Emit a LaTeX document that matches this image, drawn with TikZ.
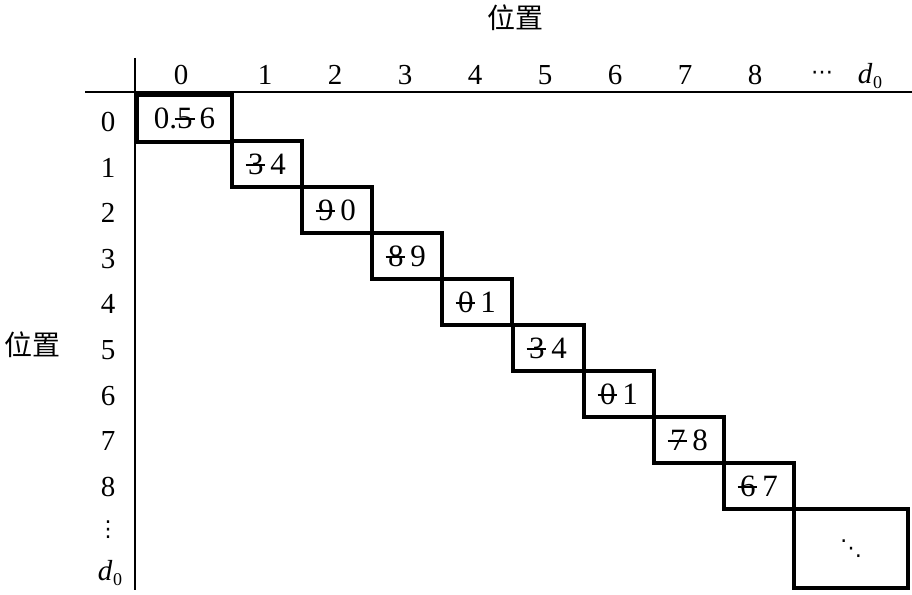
\documentclass[tikz,border=0pt]{standalone}
\usepackage{fontspec}
\setmainfont{Liberation Serif}
\newfontfamily\cjk{Noto Sans CJK SC}
\newfontfamily\dotsfont{DejaVu Sans}
\usetikzlibrary{positioning}

% struck-out digit and d_0 label
\newcommand{\strk}[1]{\rlap{\kern-0.08em\rule[0.27em]{0.64em}{0.07em}}#1\hspace{0.22em}}
\newcommand{\dzero}{\textit{d}\kern0.02em\raisebox{-0.35ex}{\fontsize{18}{18}\selectfont 0}}

\begin{document}
\begin{tikzpicture}[x=1pt,y=-1pt,
  lbl/.style={inner sep=0pt,font=\fontsize{29}{29}\selectfont},
  dts/.style={inner sep=0pt,font=\fontsize{22}{22}\selectfont\dotsfont},
  hz/.style={inner sep=0pt,font=\fontsize{28}{28}\selectfont\cjk},
  cell/.style={draw=black,line width=4pt,inner sep=0pt,font=\fontsize{31}{31}\selectfont},
  axis/.style={line width=2.5pt}]
\useasboundingbox (0,0) rectangle (912,594);

% axes
\draw[axis] (85,92) -- (912,92);
\draw[axis] (135,58) -- (135,590);

% Text Node
\node[hz] (top) at (515,18) {位置};
\node[hz] (left) at (33,345) {位置};

\node[lbl] (c0) at (181,75) {0};
\foreach \i in {1,...,8}
  \node[lbl] (c\i) at ({265+70*(\i-1)},75) {\i};
\node[dts] (c9) at (822,75) {⋯};
\node[lbl] (c10) at (870,76) {\dzero};

\foreach \i in {0,...,8}
  \node[lbl] (r\i) at (108,{122+45.6*\i}) {\i};
\node[dts] (r9) at (108,530) {⋮};
\node[lbl] (r10) at (110,573) {\dzero};

% diagonal cells
\node[cell,minimum width=95pt,minimum height=47pt] (b0) at (184.5,118) {0.\strk{5}6};
\node[cell,minimum width=70pt,minimum height=46pt] (b1) at (267,164) {\strk{3}4};
\node[cell,minimum width=70pt,minimum height=46pt] (b2) at (337,210) {\strk{9}0};
\node[cell,minimum width=70pt,minimum height=46pt] (b3) at (407,256) {\strk{8}9};
\node[cell,minimum width=70pt,minimum height=46pt] (b4) at (477,302) {\strk{0}1};
\node[cell,minimum width=71pt,minimum height=46pt] (b5) at (548,348) {\strk{3}4};
\node[cell,minimum width=70pt,minimum height=46pt] (b6) at (619,394) {\strk{0}1};
\node[cell,minimum width=70pt,minimum height=46pt] (b7) at (689,440) {\strk{7}8};
\node[cell,minimum width=70pt,minimum height=46pt] (b8) at (759,486) {\strk{6}7};
\node[cell,minimum width=114pt,minimum height=79pt,font=\fontsize{22}{22}\selectfont\dotsfont] (b9) at (851,548.5) {⋱};

\end{tikzpicture}
\end{document}
